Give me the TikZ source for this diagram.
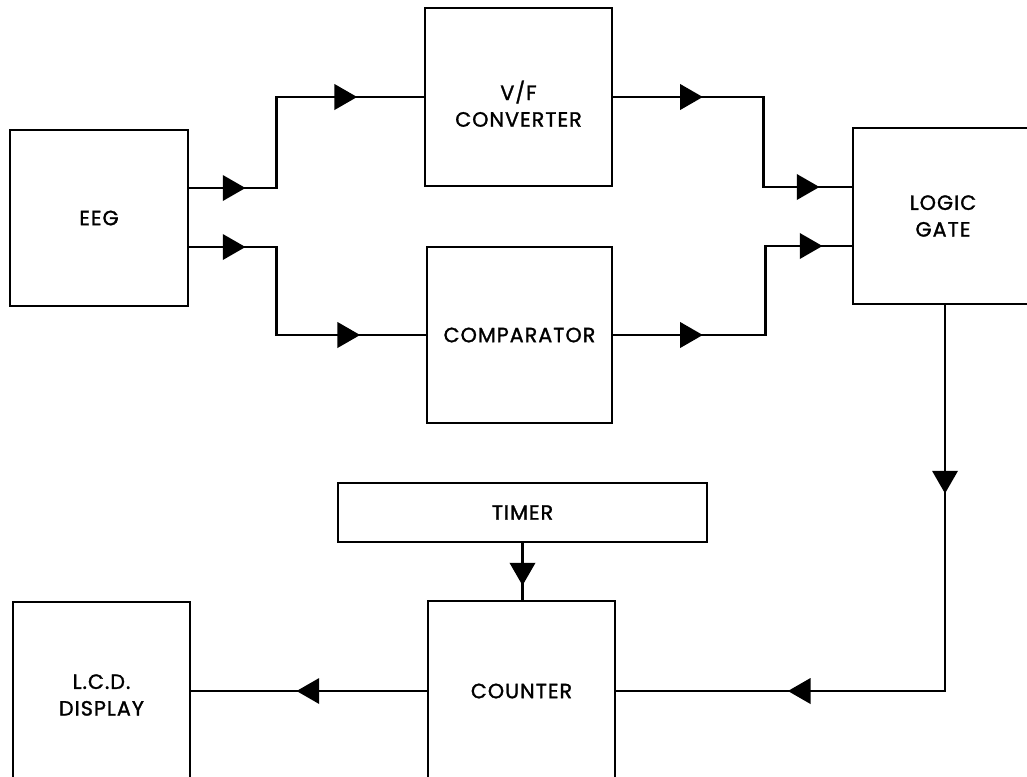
\documentclass[tikz,border=0pt]{standalone}
\usepackage{fontspec}
\usetikzlibrary{arrows.meta,decorations.markings}
\newfontfamily\labfont{Poppins}[LetterSpace=5,FakeBold=1.4]
\tikzset{
  labtext/.style={align=center,inner sep=0pt,font=\labfont\fontsize{15.5pt}{20pt}\selectfont},
  blk/.style={draw=black,line width=2.2pt,fill=white,inner sep=0pt,labtext},
  conn/.style={draw=black,line width=2pt},
  twomarks/.style 2 args={postaction={decorate},decoration={markings,
    mark=at position #1 with {\arrow{Triangle[length=17pt,width=19pt]}},
    mark=at position #2 with {\arrow{Triangle[length=17pt,width=19pt]}}}},
  onemark/.style={postaction={decorate},decoration={markings,
    mark=at position #1 with {\arrow{Triangle[length=17pt,width=19pt]}}}}
}
\begin{document}
\begin{tikzpicture}[x=0.75pt,y=-0.75pt]
\useasboundingbox[fill=white] (0,0) rectangle (1027,776);
% blocks
\node[blk,minimum width=133.5pt,minimum height=132pt] (eeg) at (99,218) {EEG};
\node[blk,minimum width=140.25pt,minimum height=133.5pt,
  label={[labtext,yshift=-5pt]center:V/F\\CONVERTER}] (vf) at (518.5,97) {};
\node[blk,minimum width=138.75pt,minimum height=132pt] (comp) at (519.5,335) {COMPARATOR};
\node[blk,minimum width=135pt,minimum height=132pt] (logic) at (943,216) {LOGIC\\GATE};
\node[blk,minimum width=276.75pt,minimum height=44.25pt] (timer) at (522.5,512.5) {TIMER};
\node[blk,minimum width=140.25pt,minimum height=135pt] (counter) at (521.5,691) {COUNTER};
\node[blk,minimum width=132.75pt,minimum height=139.5pt] (lcd) at (101.5,695) {L.C.D.\\DISPLAY};
% connectors
\draw[conn,twomarks={42pt}{194pt}] ([yshift=22.5pt]eeg.east) -- ++(87,0) |- (vf.west);
\draw[conn,twomarks={42pt}{194pt}] ([yshift=-21.75pt]eeg.east) -- ++(87,0) |- (comp.west);
\draw[conn,twomarks={67pt}{222pt}] (vf.east) -- ++(150,0) |- ([yshift=21.75pt]logic.west);
\draw[conn,twomarks={67pt}{223.5pt}] (comp.east) -- ++(152,0) |- ([yshift=-22.5pt]logic.west);
\draw[conn,twomarks={141pt}{407pt}] ([xshift=1.5pt]logic.south) |- (counter.east);
\draw[conn,onemark={31.5pt}] (timer.south) -- (timer.south |- counter.north);
\draw[conn,onemark={97.5pt}] (counter.west) -- (counter.west -| lcd.east);
\end{tikzpicture}
\end{document}
